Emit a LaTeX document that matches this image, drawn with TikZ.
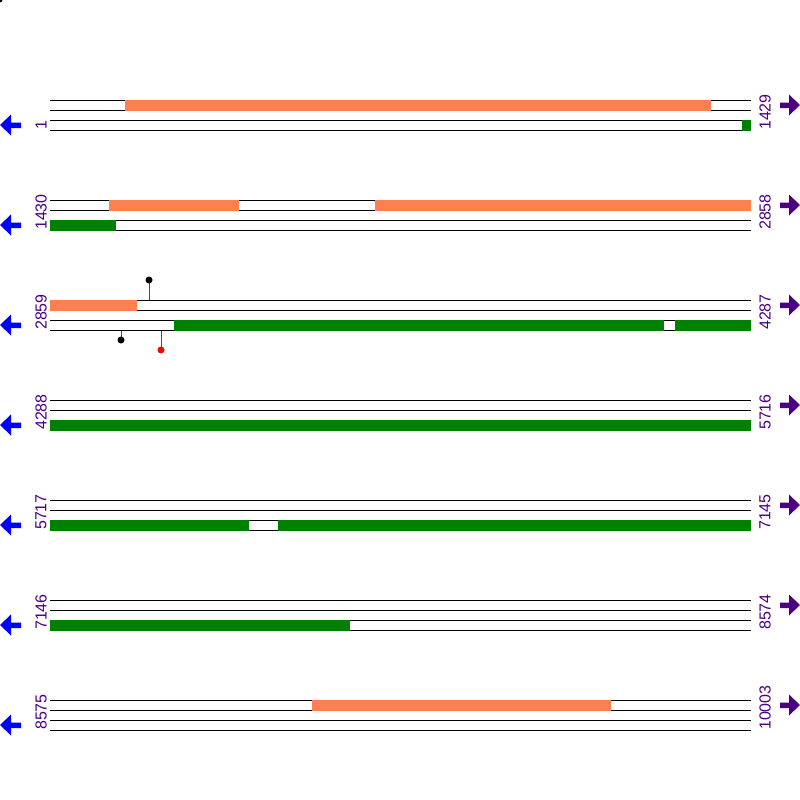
\documentclass[tikz,border=0pt]{standalone}
\usepackage{fontspec}
\setmainfont{Liberation Sans}
\definecolor{labelpurple}{HTML}{4B0082}
\definecolor{coral}{HTML}{FF7F50}
\definecolor{darkgreen}{HTML}{008000}
\definecolor{arrowblue}{HTML}{0000FF}
\begin{document}
\begin{tikzpicture}[x=1pt,y=-1pt,
  strand/.style={draw=black,line width=1pt},
  topbox/.style={fill=coral},
  botbox/.style={fill=darkgreen},
  numlabel/.style={rotate=90,anchor=west,inner sep=0pt,text=labelpurple,font=\fontsize{16}{16}\selectfont},
  leftarrow/.style={fill=arrowblue},
  rightarrow/.style={fill=labelpurple},
  stem/.style={draw=red,line width=0.8pt},
  blackdot/.style={fill=black},
  reddot/.style={fill=red}]
\useasboundingbox (0,0) rectangle (800,800);
\fill[white] (0,0) rectangle (800,800);
\fill[black] (0,0) circle (2.5);
% rows
\foreach \k/\l/\r in {0/1/1429,1/1430/2858,2/2859/4287,3/4288/5716,4/5717/7145,5/7146/8574,6/8575/10003}{
  \pgfmathsetmacro{\yo}{100*\k}
  \begin{scope}[yshift=-\yo pt]
    \foreach \yy in {100,110,120,130}{\draw[strand] (50,\yy) -- (751,\yy);}
    \node[numlabel] (left\k) at (41,130) {\l};
    \node[numlabel] (right\k) at (765,130) {\r};
    \fill[leftarrow] (0,125) -- (11,114.5) -- (11,122.5) -- (21,122.5) -- (21,128) -- (11,128) -- (11,135.5) -- cycle;
    \fill[rightarrow] (800,105) -- (789,94.5) -- (789,102.5) -- (780,102.5) -- (780,108) -- (789,108) -- (789,115.5) -- cycle;
  \end{scope}
}
% row 0
\fill[topbox] (125,99.5) rectangle (711,110.5);
\fill[botbox] (742,119.5) rectangle (751,130.5);
% row 1
\fill[topbox] (109,199.5) rectangle (239,210.5);
\fill[topbox] (375,199.5) rectangle (751,210.5);
\fill[botbox] (50,219.5) rectangle (116,230.5);
% row 2
\fill[topbox] (50,299.5) rectangle (137,310.5);
\fill[botbox] (174,319.5) rectangle (664,330.5);
\fill[botbox] (675,319.5) rectangle (751,330.5);
\draw[stem] (149,299.5) -- (149,280);
\fill[blackdot] (149,280) circle (3.5);
\draw[stem] (121,330.5) -- (121,340);
\fill[blackdot] (121,340) circle (3.5);
\draw[stem] (161,330.5) -- (161,350);
\fill[reddot] (161,350) circle (3.5);
% row 3
\fill[botbox] (50,419.5) rectangle (751,430.5);
% row 4
\fill[botbox] (50,519.5) rectangle (249,530.5);
\fill[botbox] (278,519.5) rectangle (751,530.5);
% row 5
\fill[botbox] (50,619.5) rectangle (350,630.5);
% row 6
\fill[topbox] (312,699.5) rectangle (611,710.5);
\end{tikzpicture}
\end{document}
